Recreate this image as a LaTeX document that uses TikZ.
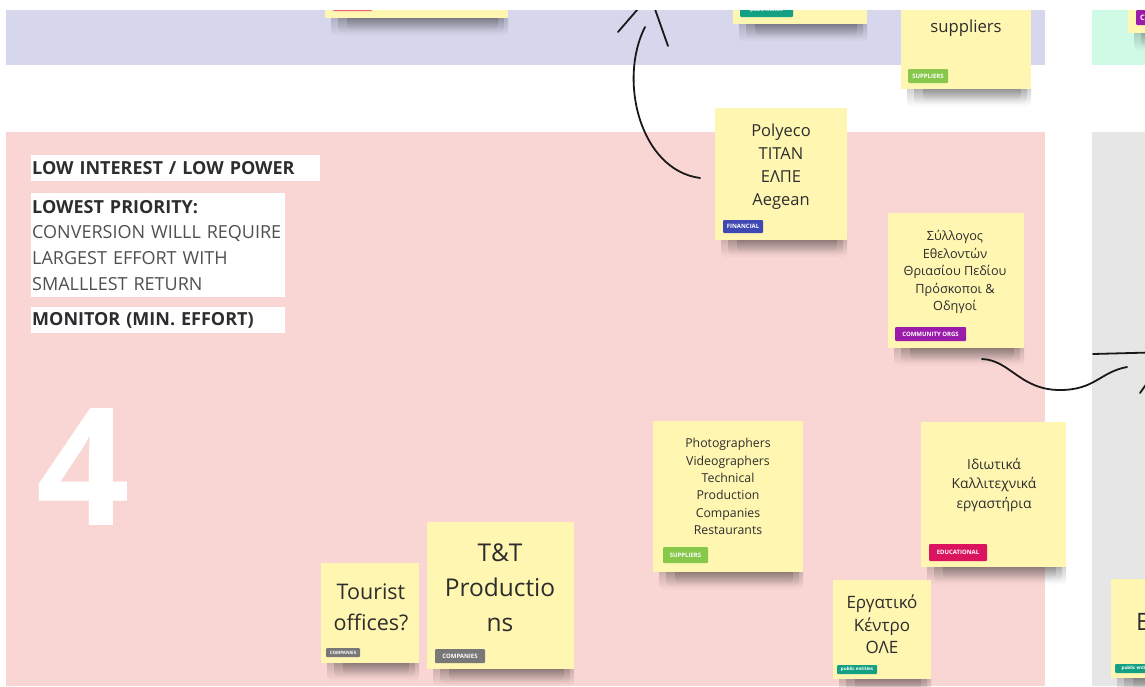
\documentclass[tikz,border=0pt]{standalone}
\usepackage{fontspec}
\setmainfont{Open Sans}
\usetikzlibrary{fadings}
\definecolor{lav}{RGB}{214,215,236}
\definecolor{mint}{RGB}{206,250,230}
\definecolor{pinkbg}{RGB}{249,214,211}
\definecolor{greybg}{RGB}{230,230,230}
\definecolor{noteyel}{RGB}{255,246,178}
\definecolor{txt}{RGB}{45,45,45}
\definecolor{txtlight}{RGB}{80,80,80}
\definecolor{ink}{RGB}{25,25,25}
\definecolor{cfin}{RGB}{63,72,178}
\definecolor{ccom}{RGB}{155,28,170}
\definecolor{csup}{RGB}{135,200,75}
\definecolor{cedu}{RGB}{218,20,95}
\definecolor{ccomp}{RGB}{120,120,120}
\definecolor{cpub}{RGB}{20,160,130}
\definecolor{cred}{RGB}{240,95,115}
\tikzfading[name=shfade, top color=transparent!76, bottom color=transparent!100]
\newcommand{\stickynote}[5]{%
  \fill[black, path fading=shfade, rounded corners=6] ({#2+6},{#5-7}) rectangle ({#4},{#5+18});
  \fill[black, path fading=shfade, rounded corners=6] ({#2+13},{#5-7}) rectangle ({#4-4},{#5+15});
  \fill[black, path fading=shfade, rounded corners=6] ({#2+22},{#5-7}) rectangle ({#4-10},{#5+12});
  \node[note, minimum width={#4-#2}, minimum height={#5-#3}] (#1) at ({(#2+#4)/2},{(#3+#5)/2}) {};}
\begin{document}
\begin{tikzpicture}[x=1pt,y=-1pt,
  note/.style={fill=noteyel, draw=none, inner sep=0},
  tag/.style={inner sep=0, text=white, rounded corners=1, font=\bfseries\fontsize{6}{6}\selectfont},
  smalltag/.style={tag, font=\bfseries\fontsize{4.5}{4.5}\selectfont},
  ntext/.style={align=center, text=txt, inner sep=0},
  wbox/.style={fill=white, inner xsep=1, inner ysep=0, align=left, anchor=north west, text=txt},
  inkline/.style={draw=ink, line width=1.8, line cap=round, line join=round}]
\useasboundingbox (0,0) rectangle (1145,686);
\fill[white] (0,0) rectangle (1145,686);
% regions
\fill[lav] (6,0) rectangle (1045,65);
\fill[mint] (1092,0) rectangle (1145,65);
\fill[pinkbg] (6,132) rectangle (1045,686);
\fill[greybg] (1092,132) rectangle (1145,686);
% big number
\node[font=\bfseries\fontsize{164}{164}\selectfont, text=white, anchor=base, inner sep=0] (four) at (83.5,525) {4};
% left text boxes
\node[wbox, text width=287, minimum height=26, font=\bfseries\fontsize{18}{20}\selectfont] (b1) at (31,155) {LOW INTEREST / LOW POWER};
\node[wbox, text width=252, minimum height=104, font=\fontsize{18}{25.7}\selectfont] (b2) at (31,193) {\textbf{LOWEST PRIORITY:}\\\textcolor{txtlight}{CONVERSION WILLL REQUIRE}\\\textcolor{txtlight}{LARGEST EFFORT WITH}\\\textcolor{txtlight}{SMALLLEST RETURN}};
\node[wbox, text width=252, minimum height=26, font=\bfseries\fontsize{18}{20}\selectfont] (b3) at (31,307) {MONITOR (MIN. EFFORT)};
% sticky notes
\stickynote{nA}{325}{-60}{508}{18}
\stickynote{nB}{733}{-60}{867}{24}
\stickynote{nC}{901}{-40}{1031}{89}
\stickynote{nD}{1128}{-60}{1260}{33}
\stickynote{poly}{715}{108}{847}{240}
\stickynote{syl}{888}{213}{1024}{348}
\stickynote{photo}{653}{421}{803}{572}
\stickynote{idi}{921}{422}{1066}{567}
\stickynote{tour}{321}{563}{419}{663}
\stickynote{tt}{427}{522}{574}{669}
\stickynote{erg}{833}{580}{931}{679}
\stickynote{nE}{1111}{579}{1240}{678}
% tags
\node[tag, fill=cred, minimum width=39, minimum height=14] (tgA) at (352.5,4) {};
\node[smalltag, fill=cpub, minimum width=53, minimum height=14] (tgB) at (766.5,10) {public entities};
\node[tag, fill=csup, minimum width=40, minimum height=14] (tgC) at (928,76) {SUPPLIERS};
\node[tag, fill=ccom, minimum width=80, minimum height=15, anchor=west, text width=76, align=left, font=\bfseries\fontsize{7.5}{7.5}\selectfont] (tgD) at (1136,17.5) {\hspace*{2pt}COMMUNITY ORGS};
\node[tag, fill=cfin, minimum width=40, minimum height=13] (tgPoly) at (743,226.5) {FINANCIAL};
\node[tag, fill=ccom, minimum width=71, minimum height=14] (tgSyl) at (930.5,334) {COMMUNITY ORGS};
\node[tag, fill=csup, minimum width=45, minimum height=16] (tgPhoto) at (685.5,555) {SUPPLIERS};
\node[tag, fill=cedu, minimum width=58, minimum height=17] (tgIdi) at (958,552.5) {EDUCATIONAL};
\node[smalltag, fill=ccomp, minimum width=34, minimum height=9] (tgTour) at (343,652.5) {COMPANIES};
\node[tag, fill=ccomp, minimum width=50, minimum height=14] (tgTT) at (460,656) {COMPANIES};
\node[smalltag, fill=cpub, minimum width=40, minimum height=9] (tgErg) at (857,669.5) {public entities};
\node[smalltag, fill=cpub, minimum width=45, minimum height=9, anchor=west] (tgE) at (1115,668.5) {public entities};
% note texts
\node[ntext, font=\fontsize{16.7}{23}\selectfont] (nCt) at (966,16.5) {material\\suppliers};
\node[ntext, font=\fontsize{16.5}{23}\selectfont] (polyt) at (781,167) {Polyeco\\TITAN\\ΕΛΠΕ\\Aegean};
\node[ntext, font=\fontsize{12.7}{17.6}\selectfont] (sylt) at (955,272) {Σύλλογος\\Εθελοντών\\Θριασίου Πεδίου\\Πρόσκοποι \&\\Οδηγοί};
\node[ntext, font=\fontsize{12.3}{17.4}\selectfont] (photot) at (728,486.5) {Photographers\\Videographers\\Technical\\Production\\Companies\\Restaurants};
\node[ntext, font=\fontsize{13.8}{19.5}\selectfont] (idit) at (994,485) {Ιδιωτικά\\Καλλιτεχνικά\\εργαστήρια};
\node[ntext, font=\fontsize{21.5}{31.5}\selectfont] (tourt) at (371,607.5) {Tourist\\offices?};
\node[ntext, font=\fontsize{24.5}{35}\selectfont] (ttt) at (500,588) {T\&T\\Productio\\ns};
\node[ntext, font=\fontsize{17}{22.5}\selectfont] (ergt) at (882,624.5) {Εργατικό\\Κέντρο\\ΟΛΕ};
\node[ntext, font=\fontsize{24}{28}\selectfont, anchor=west] (nEt) at (1136,622) {Ε};
% connectors
\coordinate (a1s) at (700,178);
\coordinate (a1e) at (645,27);
\coordinate (a1t) at (650,-5);
\draw[inkline] (a1s) .. controls (640,170) and (618,80) .. (a1e);
\draw[inkline] ([shift={(-32,37)}]a1t) -- (a1t) -- ([shift={(18,51)}]a1t);
\coordinate (a2s) at (982,359);
\coordinate (a2m) at (1060,390);
\coordinate (a2e) at (1127,367);
\coordinate (a2t) at (1169,352);
\draw[inkline] (a2s) .. controls (1010,360) and (1020,390) .. (a2m) .. controls (1095,390) and (1100,372) .. (a2e);
\draw[inkline] ([shift={(-76,2)}]a2t) -- (a2t) -- ([shift={(-29,41)}]a2t);
% top cover strip
\fill[white] (0,0) rectangle (1145,10);
\end{tikzpicture}
\end{document}
